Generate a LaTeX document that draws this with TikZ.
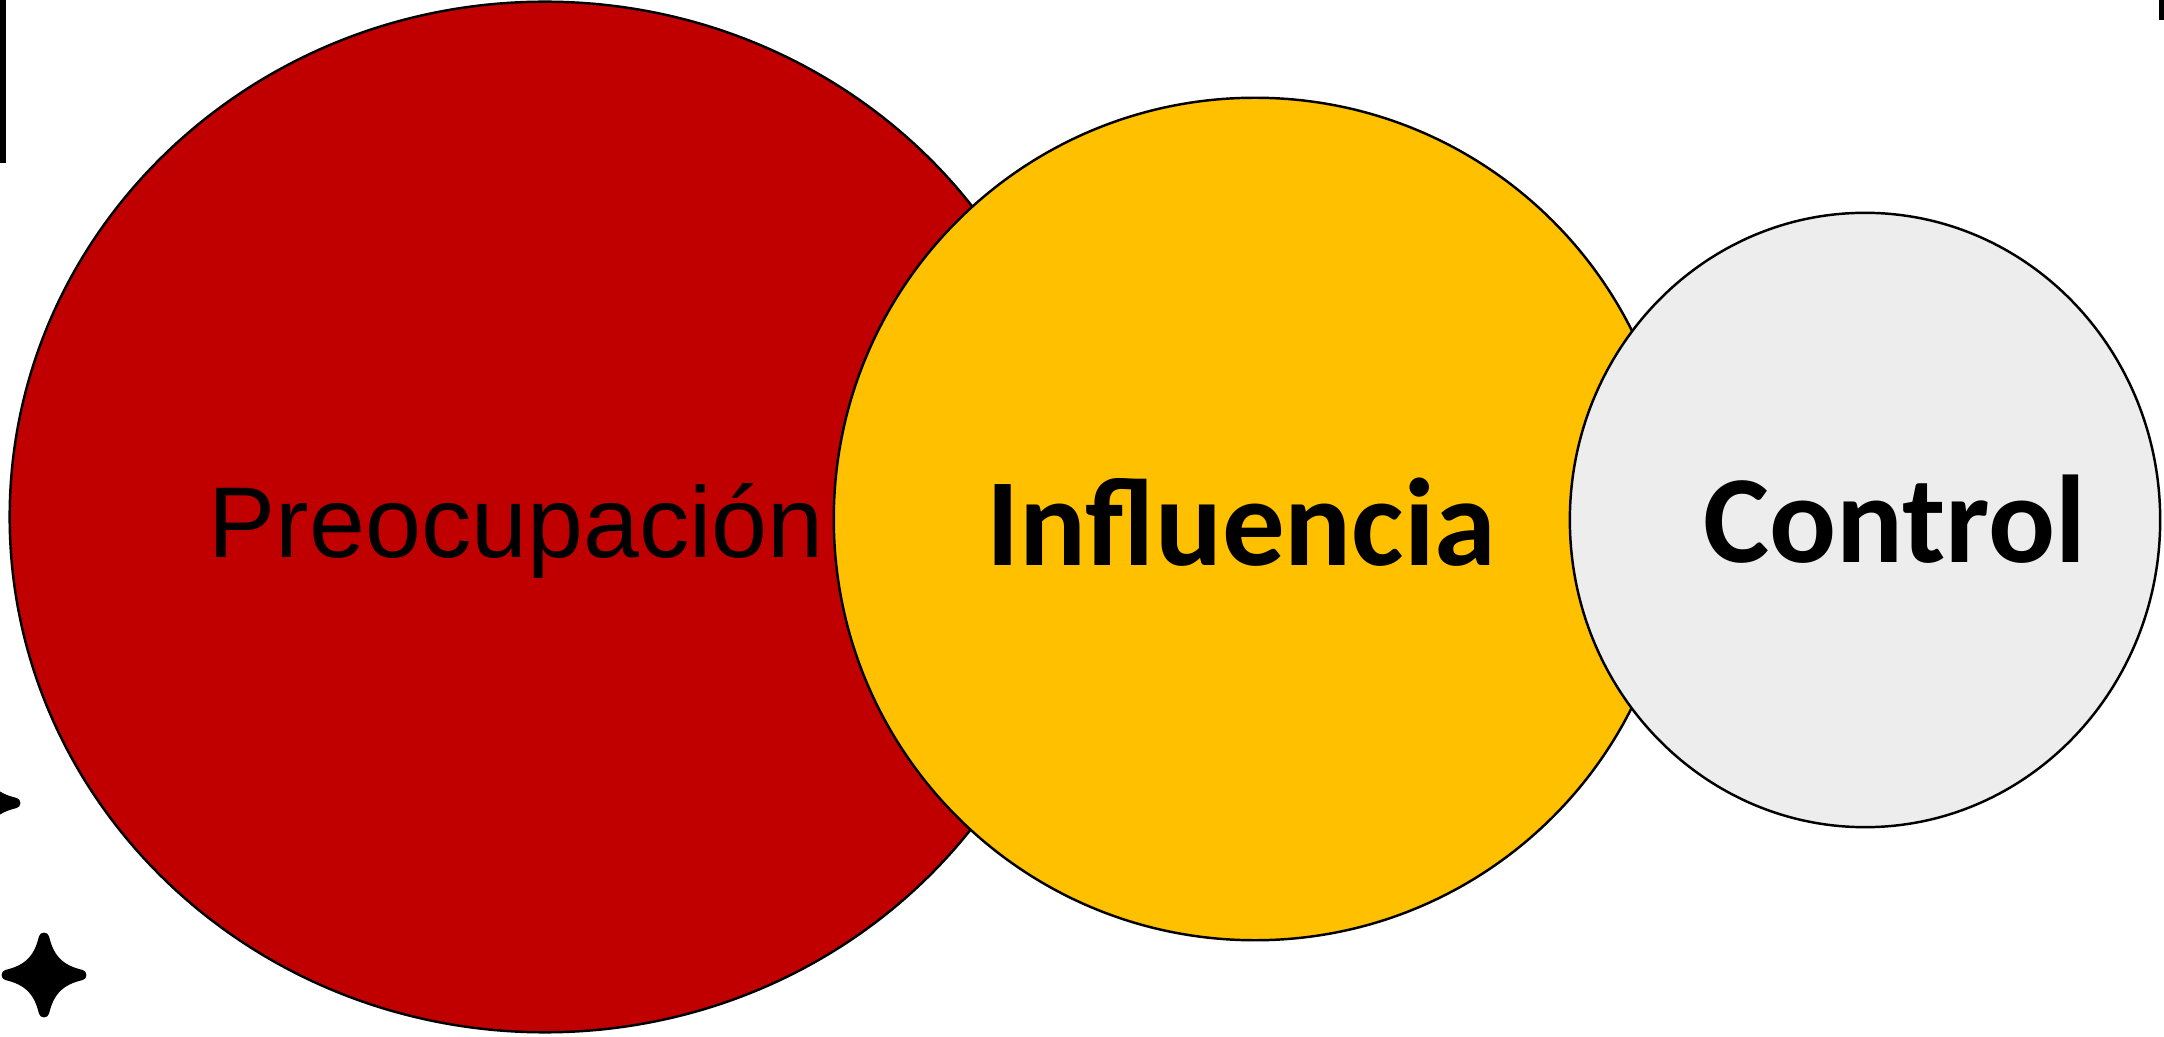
\documentclass[tikz,border=0pt]{standalone}
\usepackage{fontspec}
\usepackage{xcolor}
\usepackage{tikz}
\usetikzlibrary{shapes.geometric}
\newfontfamily\arialfont{Liberation Sans}
\newfontfamily\calibrifont{Carlito}
\definecolor{darkred}{HTML}{C00000}
\definecolor{gold}{HTML}{FFC000}
\definecolor{lightgray}{HTML}{EDEDED}
\tikzset{
  zone/.style={draw=black, line width=0.7pt},
  bigword/.style={inner sep=0pt, font=\calibrifont\bfseries\fontsize{35.5pt}{42pt}\selectfont},
  sparkle/.pic={
    \filldraw[black, line width=3pt, line join=round] (0,-0.93) .. controls (0.12,-0.4) and (0.4,-0.12) .. (0.93,0)
      .. controls (0.4,0.12) and (0.12,0.4) .. (0,0.93)
      .. controls (-0.12,0.4) and (-0.4,0.12) .. (-0.93,0)
      .. controls (-0.4,-0.12) and (-0.12,-0.4) .. (0,-0.93) -- cycle;
  }
}
\begin{document}
\begin{tikzpicture}[x=0.01cm,y=-0.01cm]
\useasboundingbox (0,0) rectangle (2164,1037);
\clip (0,0) rectangle (2164,1037);

\fill[black] (0,0) rectangle (6,163);
\fill[black] (2159,0) rectangle (2164,20);

\pic at (-22,803) [scale=40] {sparkle};
\pic at (44,975) [scale=40] {sparkle};

\node[zone, ellipse, fill=darkred, minimum width=10.7cm, minimum height=10.3cm] at (545,517) (preoc) {};
\node[inner sep=0pt, anchor=base west, font=\arialfont\fontsize{28.6pt}{34pt}\selectfont] at (208,558) (preoctext) {Preocupación};

\node[zone, circle, fill=gold, minimum size=8.42cm] at (1255,519) (infl) {};
\node[bigword, anchor=base east] at (1497,566) (infltext) {Influencia};

\node[zone, ellipse, fill=lightgray, minimum width=5.9cm, minimum height=6.14cm] at (1865,520) (ctrl) {};
\node[bigword, anchor=base east] at (2087,563) (ctrltext) {Control};

\end{tikzpicture}
\end{document}
